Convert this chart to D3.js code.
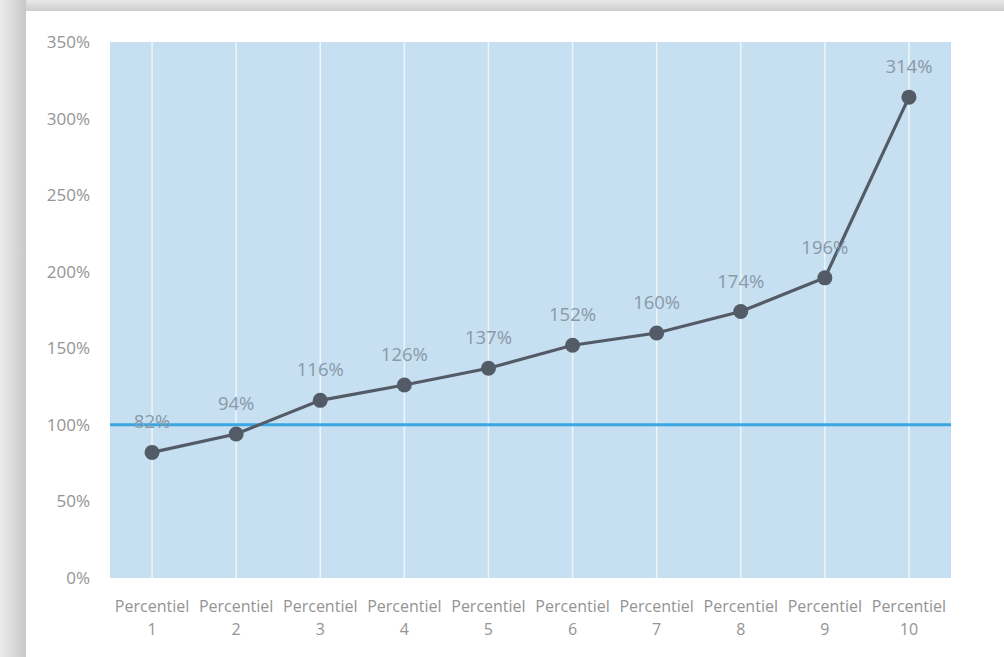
<!DOCTYPE html>
<html>
<head>
<meta charset="utf-8">
<script src="https://cdn.jsdelivr.net/npm/d3@7"></script>
<style>
  html, body { margin: 0; padding: 0; background: #fff; }
  #graph { width: 1004px; height: 657px; }
  text { font-family: "Open Sans", "Noto Sans", sans-serif; }
</style>
</head>
<body>
<div id="graph"></div>
<script>
// Chart data
const categories = ["1", "2", "3", "4", "5", "6", "7", "8", "9", "10"]
const values = [82, 94, 116, 126, 137, 152, 160, 174, 196, 314]
const yTicks = [0, 50, 100, 150, 200, 250, 300, 350]
const referenceLine = 100

const width = 1004
const height = 657

const svg = d3.select('#graph').append("svg").attr("width", width).attr("height", height)

// gray frame (screenshot shadow) around the white card
const defs = svg.append("defs")
const gLeft = defs.append("linearGradient").attr("id", "shadeLeft").attr("x1", 0).attr("x2", 1).attr("y1", 0).attr("y2", 0)
gLeft.append("stop").attr("offset", "0%").attr("stop-color", "#ececec")
gLeft.append("stop").attr("offset", "100%").attr("stop-color", "#c8c8c8")
const gTop = defs.append("linearGradient").attr("id", "shadeTop").attr("x1", 0).attr("x2", 0).attr("y1", 0).attr("y2", 1)
gTop.append("stop").attr("offset", "0%").attr("stop-color", "#e8e8e8")
gTop.append("stop").attr("offset", "100%").attr("stop-color", "#cdcdcd")

svg.append("rect").attr("x", 0).attr("y", 0).attr("width", width).attr("height", 11).attr("fill", "url(#shadeTop)")
svg.append("rect").attr("x", 0).attr("y", 0).attr("width", 26).attr("height", height).attr("fill", "url(#shadeLeft)")

// plot area
const margin = { top: 42, right: 53, bottom: 79, left: 110 }
const gWidth = width - margin.left - margin.right
const gHeight = height - margin.top - margin.bottom

const graph = svg.append('g').attr("transform", `translate(${margin.left}, ${margin.top})`)

const xScale = d3.scaleBand().domain(categories).range([0, gWidth])
const yScale = d3.scaleLinear().domain([0, 350]).range([gHeight, 0])
const cx = d => xScale(d) + xScale.bandwidth() / 2

graph.append("rect").attr("width", gWidth).attr("height", gHeight).attr("fill", "#c6dff1")

// vertical white gridlines at each category
graph.selectAll(".vgrid").data(categories).enter().append("line")
  .attr("class", "vgrid")
  .attr("x1", cx).attr("x2", cx)
  .attr("y1", 0).attr("y2", gHeight)
  .attr("stroke", "#eef5fb").attr("stroke-width", 1.5)

// y axis labels
const yAxis = graph.append('g').attr("class", "axis")
  .call(d3.axisLeft(yScale).tickValues(yTicks).tickFormat(d => d + "%").tickSize(0).tickPadding(20))
yAxis.select(".domain").remove()
yAxis.selectAll("text").attr("fill", "#949494").style("font-size", "17px")

// x axis labels (two lines)
const xLabels = graph.selectAll(".xlabel").data(categories).enter().append("text")
  .attr("class", "xlabel")
  .attr("x", cx)
  .attr("y", gHeight + 34)
  .attr("text-anchor", "middle")
  .attr("fill", "#949494")
  .style("font-size", "16px")
xLabels.append("tspan").attr("x", cx).text("Percentiel")
xLabels.append("tspan").attr("x", cx).attr("dy", 23).text(d => d)

// 100% reference line
graph.append("line")
  .attr("x1", 0).attr("x2", gWidth)
  .attr("y1", yScale(referenceLine)).attr("y2", yScale(referenceLine))
  .attr("stroke", "#3aa6e2").attr("stroke-width", 3)

const data = categories.map((c, i) => ({ cat: c, value: values[i] }))

// data line
graph.append("path").datum(data)
  .attr("fill", "none")
  .attr("stroke", "#535c66")
  .attr("stroke-width", 3.2)
  .attr("d", d3.line().x(d => cx(d.cat)).y(d => yScale(d.value)))

graph.selectAll("circle").data(data).enter().append("circle")
  .attr("cx", d => cx(d.cat))
  .attr("cy", d => yScale(d.value))
  .attr("r", 7.5)
  .attr("fill", "#535c66")

// data labels
graph.selectAll(".dlabel").data(data).enter().append("text")
  .attr("class", "dlabel")
  .attr("x", d => cx(d.cat))
  .attr("y", d => yScale(d.value) - 24)
  .attr("text-anchor", "middle")
  .attr("fill", "#8a99a8")
  .style("font-size", "18.5px")
  .text(d => d.value + "%")
</script>
</body>
</html>
